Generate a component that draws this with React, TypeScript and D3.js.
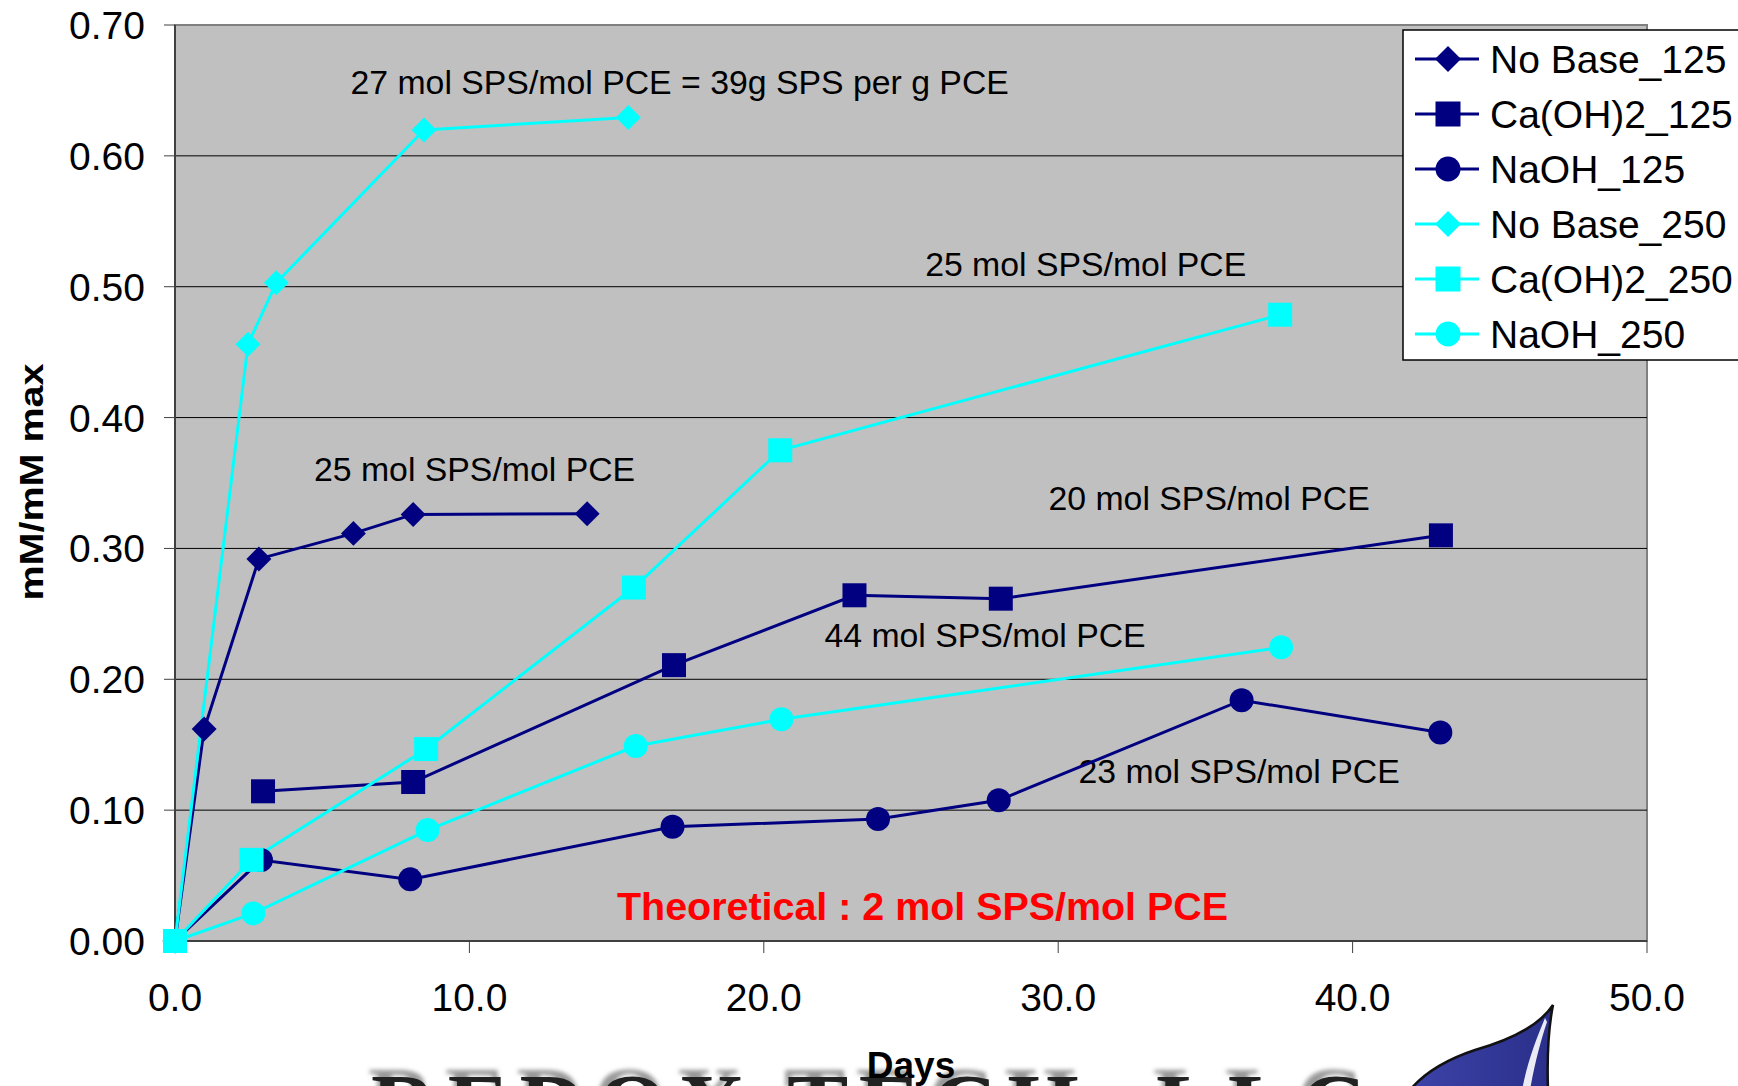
import React from "react";
import * as d3 from "d3";

const xTicks = [0, 10, 20, 30, 40, 50];
const yTicks = [0, 0.1, 0.2, 0.3, 0.4, 0.5, 0.6, 0.7];

const seriesNames = ["No Base_125", "Ca(OH)2_125", "NaOH_125", "No Base_250", "Ca(OH)2_250", "NaOH_250"];
const seriesColors = ["#000080", "#000080", "#000080", "#00FFFF", "#00FFFF", "#00FFFF"];
const seriesShapes = ["diamond", "square", "circle", "diamond", "square", "circle"];

const noBase125X = [0, 0.99, 2.85, 6.06, 8.09, 14.0];
const noBase125Y = [0, 0.162, 0.292, 0.3115, 0.326, 0.3265];
const caOH125X = [2.99, 8.09, 16.95, 23.08, 28.05, 43.0];
const caOH125Y = [0.1144, 0.1215, 0.2108, 0.2642, 0.2616, 0.31];
const naOH125X = [0, 2.92, 7.99, 16.9, 23.88, 27.98, 36.23, 42.98];
const naOH125Y = [0, 0.0619, 0.0471, 0.0873, 0.0932, 0.1075, 0.184, 0.1594];
const noBase250X = [0, 2.48, 3.44, 8.46, 15.4];
const noBase250Y = [0, 0.456, 0.503, 0.6198, 0.6293];
const caOH250X = [0, 2.6, 8.53, 15.59, 20.56, 37.54];
const caOH250Y = [0, 0.062, 0.1467, 0.2701, 0.375, 0.4786];
const naOH250X = [0, 2.66, 8.58, 15.65, 20.6, 37.57];
const naOH250Y = [0, 0.0211, 0.0848, 0.149, 0.1694, 0.2244];

const seriesXs = [noBase125X, caOH125X, naOH125X, noBase250X, caOH250X, naOH250X];
const seriesYs = [noBase125Y, caOH125Y, naOH125Y, noBase250Y, caOH250Y, naOH250Y];

const annotationTexts = [
  "27 mol SPS/mol PCE = 39g SPS per g PCE",
  "25 mol SPS/mol PCE",
  "25 mol SPS/mol PCE",
  "20 mol SPS/mol PCE",
  "44 mol SPS/mol PCE",
  "23 mol SPS/mol PCE",
];
// anchor positions in data units (x days, y value at baseline)
const annotationX = [5.96, 25.48, 4.72, 29.67, 22.06, 30.69];
const annotationY = [0.6476, 0.5083, 0.3516, 0.3294, 0.2244, 0.1207];

const theoreticalText = "Theoretical : 2 mol SPS/mol PCE";

const W = 1738;
const H = 1086;
const left = 175, right = 1647, top = 25, bottom = 941;
const FONT = "'Liberation Sans', Arial, Helvetica, sans-serif";

function Marker({ shape, x, y, color, s }: { shape: string; x: number; y: number; color: string; s: number }) {
  if (shape === "diamond") {
    const h = s * 0.52;
    return <path d={`M${x},${y - h}L${x + h},${y}L${x},${y + h}L${x - h},${y}Z`} fill={color} />;
  }
  if (shape === "square") {
    return <rect x={x - s / 2} y={y - s / 2} width={s} height={s} fill={color} />;
  }
  return <circle cx={x} cy={y} r={s / 2} fill={color} />;
}

export default function App() {
  const x = d3.scaleLinear().domain([0, 50]).range([left, right]);
  const y = d3.scaleLinear().domain([0, 0.7]).range([bottom, top]);
  const line = d3
    .line<[number, number]>()
    .x((d) => x(d[0]))
    .y((d) => y(d[1]));

  const series = seriesNames.map((name, i) => ({
    name,
    color: seriesColors[i],
    shape: seriesShapes[i],
    pts: seriesXs[i].map((v, j) => [v, seriesYs[i][j]] as [number, number]),
  }));

  const legendX = 1403, legendTop = 30, legendRow = 55;

  return (
    <svg
      width={W}
      height={H}
      style={{ position: "absolute", left: 0, top: 0, background: "#fff" }}
      fontFamily={FONT}
    >
      <defs>
        <filter id="blur" x="-10%" y="-50%" width="120%" height="200%">
          <feGaussianBlur stdDeviation="2" />
        </filter>
        <linearGradient id="leaf" x1="0" y1="0" x2="1" y2="0">
          <stop offset="0" stopColor="#3d43a8" />
          <stop offset="1" stopColor="#2a2f8a" />
        </linearGradient>
      </defs>
      <rect width={W} height={H} fill="#fff" />
      {/* plot area */}
      <rect x={left} y={top} width={right - left} height={bottom - top} fill="#C0C0C0" stroke="#808080" strokeWidth={2} />
      {/* gridlines */}
      {yTicks.slice(1, -1).map((t) => (
        <line key={t} x1={left} x2={right} y1={y(t)} y2={y(t)} stroke="#000" strokeWidth={1} />
      ))}
      {/* axes */}
      <line x1={left} x2={left} y1={top} y2={bottom} stroke="#404040" strokeWidth={2} />
      <line x1={left} x2={right} y1={bottom} y2={bottom} stroke="#404040" strokeWidth={2} />
      {yTicks.map((t) => (
        <g key={"yt" + t}>
          <line x1={left - 11} x2={left} y1={y(t)} y2={y(t)} stroke="#404040" strokeWidth={1} />
          <text x={145} y={y(t)} dy="0.36em" textAnchor="end" fontSize={39} fill="#000">
            {d3.format(".2f")(t)}
          </text>
        </g>
      ))}
      {xTicks.map((t) => (
        <g key={"xt" + t}>
          <line x1={x(t)} x2={x(t)} y1={bottom} y2={bottom + 12} stroke="#404040" strokeWidth={1} />
          <text x={x(t)} y={1011} textAnchor="middle" fontSize={39} fill="#000">
            {d3.format(".1f")(t)}
          </text>
        </g>
      ))}
      {/* annotations */}
      {annotationTexts.map((t, i) => (
        <text key={"a" + i} x={x(annotationX[i])} y={y(annotationY[i])} fontSize={33.8} fill="#000">
          {t}
        </text>
      ))}
      <text x={617} y={920} fontSize={39} fontWeight="bold" fill="#FF0000" textLength={611} lengthAdjust="spacingAndGlyphs">
        {theoreticalText}
      </text>
      {/* lines */}
      {series.map((s) => (
        <path key={"l" + s.name} d={line(s.pts) || ""} fill="none" stroke={s.color} strokeWidth={3} />
      ))}
      {/* markers */}
      {series.map((s) => (
        <g key={"m" + s.name}>
          {s.pts.map((p, j) => (
            <Marker key={j} shape={s.shape} x={x(p[0])} y={y(p[1])} color={s.color} s={24} />
          ))}
        </g>
      ))}
      {/* legend */}
      <rect x={legendX} y={legendTop} width={400} height={330} fill="#fff" stroke="#000" strokeWidth={1.5} />
      {series.map((s, i) => {
        const cy = 59 + i * legendRow;
        return (
          <g key={"lg" + s.name}>
            <line x1={1415} x2={1479} y1={cy} y2={cy} stroke={s.color} strokeWidth={3} />
            <Marker shape={s.shape} x={1448} y={cy} color={s.color} s={25} />
            <text x={1490} y={cy} dy="0.36em" fontSize={39} fill="#000">
              {s.name}
            </text>
          </g>
        );
      })}
      {/* axis titles */}
      <text
        transform="translate(31,482) rotate(-90)"
        textAnchor="middle"
        dy="0.36em"
        fontSize={34}
        fontWeight="bold"
        textLength={237}
        lengthAdjust="spacingAndGlyphs"
      >
        mM/mM max
      </text>
      {/* logo */}
      <text
        x={371}
        y={1136}
        fontFamily="'Liberation Serif', 'DejaVu Serif', serif"
        fontWeight="bold"
        fontSize={92}
        fill="#999"
        textLength={995}
        lengthAdjust="spacing"
        filter="url(#blur)"
        transform="translate(-3,-6)"
      >
        REDOX TECH, LLC
      </text>
      <text
        x={371}
        y={1137}
        fontFamily="'Liberation Serif', 'DejaVu Serif', serif"
        fontWeight="bold"
        fontSize={92}
        fill="#222"
        textLength={995}
        lengthAdjust="spacing"
      >
        REDOX TECH, LLC
      </text>
      <path
        d="M1553,1005 C1540,1025 1510,1040 1475,1050 C1445,1060 1425,1072 1410,1090 L1548,1090 C1547,1060 1548,1030 1553,1005 Z"
        fill="url(#leaf)"
        stroke="#111"
        strokeWidth={2.5}
      />
      <path d="M1545,1018 C1536,1040 1528,1060 1522,1090 L1530,1090 C1535,1062 1541,1040 1547,1022 Z" fill="#fff" opacity={0.9} />
      <text x={911} y={1078} textAnchor="middle" fontSize={37} fontWeight="bold" fill="#000">
        Days
      </text>
    </svg>
  );
}
